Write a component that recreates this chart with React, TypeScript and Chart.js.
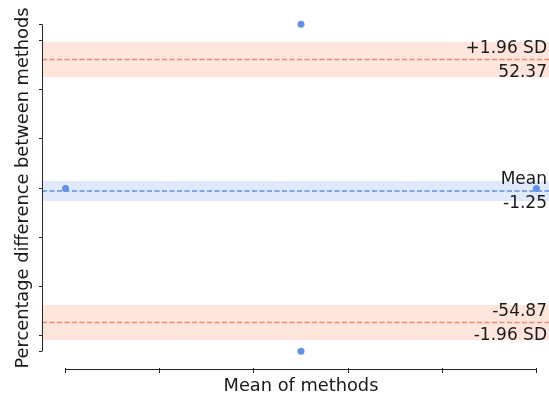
import React, { useEffect, useRef } from "react";
import { Chart, registerables } from "chart.js";

Chart.register(...registerables);

// ---- data ----
const meanOfMethods = [0, 2.5, 2.5, 5];
const percentDiff = [-0.25, 66.75, -66.6, -0.25];
const meanDiff = -1.25;
const upperLoA = 52.37;
const lowerLoA = -54.87;
const meanCI = [-5.35, 2.85];
const upperCI = [45.17, 59.57];
const lowerCI = [-62.07, -47.67];
const xTicks = [0, 1, 2, 3, 4, 5];
const yTicks = [-66.6, -60, -40, -20, 0, 20, 40, 60, 66.75];
const xRange = [-0.25, 5.25];
const yRange = [-73.4, 73.4];
const upperLabels = ["+1.96 SD", "52.37"];
const meanLabels = ["Mean", "-1.25"];
const lowerLabels = ["-54.87", "-1.96 SD"];

const FONT = "'DejaVu Sans', sans-serif";
const INK = "#262626";
const RED_BAND = "rgba(255,127,80,0.2)";
const RED_LINE = "rgba(233,135,105,0.95)";
const BLUE_BAND = "rgba(100,149,237,0.2)";
const BLUE_LINE = "rgba(95,142,232,1)";
const POINT = "#6190EA";

const CANVAS_W = 560;
const CANVAS_H = 395;

const hline = (y: number) => [
  { x: xRange[0], y },
  { x: xRange[1], y },
];

const spinePlugin = {
  id: "spines",
  afterDatasetsDraw(chart: any) {
    const { ctx, chartArea, scales } = chart;
    const xs = scales.x;
    const ys = scales.y;
    ctx.save();
    ctx.strokeStyle = INK;
    ctx.lineWidth = 1;
    ctx.beginPath();
    const lx = Math.round(chartArea.left) + 0.5;
    ctx.moveTo(lx, ys.getPixelForValue(yTicks[yTicks.length - 1]));
    ctx.lineTo(lx, ys.getPixelForValue(yTicks[0]));
    const by = Math.round(chartArea.bottom) + 1.5;
    ctx.moveTo(xs.getPixelForValue(xTicks[0]), by);
    ctx.lineTo(xs.getPixelForValue(xTicks[xTicks.length - 1]), by);
    ctx.stroke();

    // limit labels
    ctx.fillStyle = "#1a1a1a";
    ctx.font = `17px ${FONT}`;
    ctx.textAlign = "right";
    ctx.textBaseline = "alphabetic";
    const rx = 547;
    const put = (val: number, labs: string[]) => {
      const py = ys.getPixelForValue(val);
      ctx.fillText(labs[0], rx, py - 7);
      ctx.fillText(labs[1], rx, py + 17);
    };
    put(upperLoA, upperLabels);
    put(meanDiff, meanLabels);
    put(lowerLoA, lowerLabels);
    ctx.restore();
  },
};

export default function App() {
  const ref = useRef<HTMLCanvasElement | null>(null);
  useEffect(() => {
    document.body.style.overflow = "hidden";
    if (!ref.current) return;
    const band = (lo: number, hi: number, color: string) => [
      {
        type: "line",
        data: hline(lo),
        borderWidth: 0,
        pointRadius: 0,
        fill: false,
        order: 3,
      },
      {
        type: "line",
        data: hline(hi),
        borderWidth: 0,
        pointRadius: 0,
        fill: "-1",
        backgroundColor: color,
        order: 3,
      },
    ];
    const line = (y: number, color: string) => ({
      type: "line",
      data: hline(y),
      borderColor: color,
      borderWidth: 1.4,
      borderDash: [5, 2.5],
      pointRadius: 0,
      fill: false,
      order: 2,
    });
    const zeroPad = (s: any) => {
      s.paddingLeft = 0;
      s.paddingRight = 0;
      s.paddingTop = 0;
      s.paddingBottom = 0;
    };
    const chart = new Chart(ref.current, {
      type: "scatter",
      data: {
        datasets: [
          ...band(upperCI[0], upperCI[1], RED_BAND),
          ...band(meanCI[0], meanCI[1], BLUE_BAND),
          ...band(lowerCI[0], lowerCI[1], RED_BAND),
          line(upperLoA, RED_LINE),
          line(meanDiff, BLUE_LINE),
          line(lowerLoA, RED_LINE),
          {
            type: "scatter",
            data: meanOfMethods.map((x, i) => ({ x, y: percentDiff[i] })),
            backgroundColor: POINT,
            borderWidth: 0,
            pointRadius: 3.5,
            order: 1,
          },
        ] as any,
      },
      options: {
        animation: false,
        responsive: false,
        layout: {
          autoPadding: false,
          padding: { top: 8, right: 0, bottom: 0, left: 0 },
        },
        plugins: {
          legend: { display: false },
          tooltip: { enabled: false },
        },
        scales: {
          x: {
            type: "linear",
            min: xRange[0],
            max: xRange[1],
            afterBuildTicks: (s: any) => {
              s.ticks = xTicks.map((v) => ({ value: v }));
            },
            afterFit: (s: any) => {
              s.height = 27;
              zeroPad(s);
            },
            border: { display: false },
            grid: {
              display: true,
              drawOnChartArea: false,
              drawTicks: true,
              tickLength: 5,
              color: INK,
              lineWidth: 1,
            },
            ticks: { display: false },
            title: {
              display: true,
              text: "Mean of methods",
              color: "#1a1a1a",
              font: { family: FONT, size: 17.8, lineHeight: 1 },
              padding: { top: 0, bottom: 0 },
            },
          },
          y: {
            type: "linear",
            min: yRange[0],
            max: yRange[1],
            afterBuildTicks: (s: any) => {
              s.ticks = yTicks.map((v) => ({ value: v }));
            },
            afterFit: (s: any) => {
              s.width = 42;
              zeroPad(s);
            },
            border: { display: false },
            grid: {
              display: true,
              drawOnChartArea: false,
              drawTicks: true,
              tickLength: 3,
              color: INK,
              lineWidth: 1,
            },
            ticks: { display: false },
            title: {
              display: true,
              text: "Percentage difference between methods",
              color: "#1a1a1a",
              font: { family: FONT, size: 17.8, lineHeight: 1 },
              padding: { top: 14, bottom: 0 },
            },
          },
        },
      },
      plugins: [spinePlugin],
    } as any);
    return () => chart.destroy();
  }, []);
  return (
    <div
      style={{
        position: "fixed",
        left: 0,
        top: 0,
        width: CANVAS_W,
        height: CANVAS_H,
        background: "#fff",
      }}
    >
      <canvas ref={ref} width={CANVAS_W} height={CANVAS_H} style={{ display: "block" }} />
    </div>
  );
}
